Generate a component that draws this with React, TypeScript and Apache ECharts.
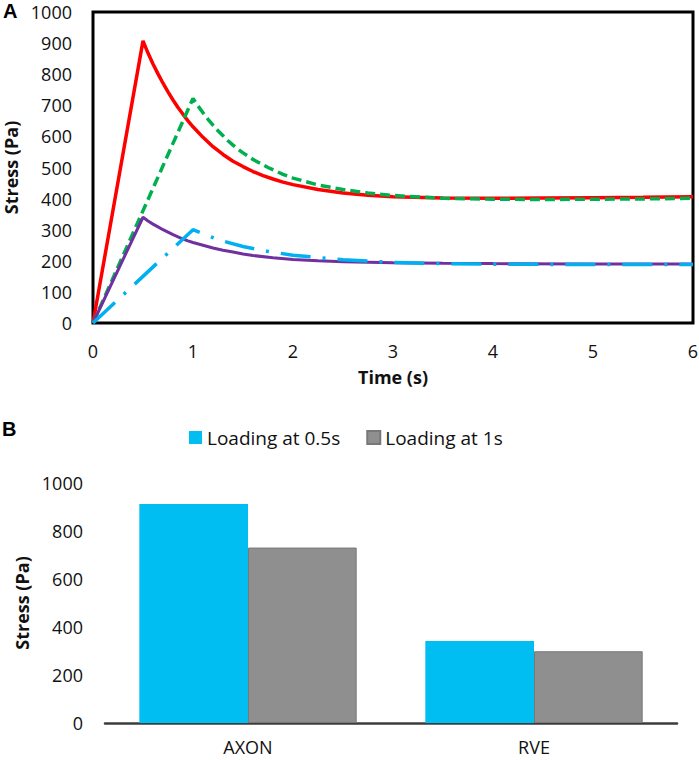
import React, { useEffect, useRef } from "react";
import * as echarts from "echarts";

// Panel A: stress vs time (time in s, stress in Pa)
const axonLoad05: number[][] = [
  [0, 0], [0.5, 907], [0.55, 868], [0.6, 833], [0.65, 801], [0.7, 771], [0.75, 743],
  [0.8, 717], [0.85, 693], [0.9, 671], [0.95, 650], [1.0, 631], [1.1, 597], [1.2, 567],
  [1.3, 542], [1.4, 520], [1.5, 503], [1.6, 487], [1.7, 474], [1.8, 463], [1.9, 453],
  [2.0, 445], [2.25, 429], [2.5, 418], [2.75, 411], [3.0, 406], [3.5, 402], [4.0, 401],
  [4.5, 402], [5.0, 403], [5.5, 404], [6.0, 406],
];
const axonLoad1: number[][] = [
  [0, 0], [1.0, 722], [1.05, 698], [1.1, 676], [1.15, 655], [1.2, 636], [1.25, 618],
  [1.3, 602], [1.35, 586], [1.4, 572], [1.45, 559], [1.5, 547], [1.6, 526], [1.75, 500],
  [1.9, 478], [2.0, 466], [2.25, 444], [2.5, 429], [2.75, 418], [3.0, 410], [3.5, 401],
  [4.0, 398], [4.5, 397], [5.0, 398], [5.5, 399], [6.0, 401],
];
const rveLoad05: number[][] = [
  [0, 0], [0.5, 340], [0.55, 328], [0.6, 318], [0.65, 309], [0.7, 300], [0.75, 292],
  [0.8, 284], [0.85, 277], [0.9, 270], [0.95, 264], [1.0, 259], [1.1, 250], [1.2, 241],
  [1.3, 234], [1.4, 228], [1.5, 222], [1.6, 217], [1.8, 210], [2.0, 204], [2.25, 200],
  [2.5, 197], [3.0, 194], [3.5, 192], [4.0, 191], [5.0, 190], [6.0, 190],
];
const rveLoad1: number[][] = [
  [0, 0], [1.0, 300], [1.25, 268], [1.5, 246], [1.75, 230], [2.0, 218], [2.5, 203],
  [3.0, 195], [3.5, 191], [4.0, 189], [5.0, 188], [6.0, 188],
];

// Panel B: peak stress
const categories = ["AXON", "RVE"];
const peakLoad05 = [913, 342];
const peakLoad1 = [731, 299];
const legendNames = ["Loading at 0.5s", "Loading at 1s"];

const FONT = "'Open Sans', sans-serif";
const TXT = "#111";

export default function App() {
  const ref = useRef<HTMLDivElement>(null);
  useEffect(() => {
    const chart = echarts.init(ref.current!, null, { renderer: "svg" });
    const tickLabel = { color: TXT, fontFamily: FONT, fontSize: 18, formatter: (v: any) => String(v) };
    const nameStyle = { color: TXT, fontFamily: FONT, fontSize: 18, fontWeight: "bold" as const };
    chart.setOption({
      animation: false,
      backgroundColor: "#fff",
      textStyle: { fontFamily: FONT },
      grid: [
        {
          left: 93, top: 12, width: 600, height: 311, show: true, borderColor: "#000", borderWidth: 3,
          backgroundColor: "transparent", containLabel: false, outerBoundsMode: "none",
        },
        { left: 105, top: 483, width: 572, height: 240, containLabel: false, outerBoundsMode: "none" },
      ],
      legend: {
        data: legendNames,
        left: 189,
        top: 428,
        padding: 0,
        icon: "rect",
        itemWidth: 13,
        itemHeight: 13,
        itemGap: 26,
        textStyle: { color: TXT, fontFamily: FONT, fontSize: 19 },
      },
      graphic: [
        { type: "text", left: 3, top: 1, style: { text: "A", font: "bold 20px 'Liberation Sans', Arial", fill: "#000" } },
        { type: "text", left: 2, top: 419, style: { text: "B", font: "bold 20px 'Liberation Sans', Arial", fill: "#000" } },
      ],
      xAxis: [
        {
          gridIndex: 0, type: "value", min: 0, max: 6, interval: 1,
          name: "Time (s)", nameLocation: "middle", nameGap: 45, nameTextStyle: nameStyle,
          axisLine: { show: false }, axisTick: { show: false }, splitLine: { show: false },
          axisLabel: { ...tickLabel, margin: 19 },
        },
        {
          gridIndex: 1, type: "category", data: categories,
          axisLine: { show: true, lineStyle: { color: "#3c3c3c", width: 2.5 } },
          axisTick: { show: false },
          axisLabel: { ...tickLabel, margin: 15 },
        },
      ],
      yAxis: [
        {
          gridIndex: 0, type: "value", min: 0, max: 1000, interval: 100,
          name: "Stress (Pa)", nameLocation: "middle", nameGap: 70, nameTextStyle: nameStyle,
          axisLine: { show: false }, axisTick: { show: false }, splitLine: { show: false },
          axisLabel: { ...tickLabel, margin: 21 },
        },
        {
          gridIndex: 1, type: "value", min: 0, max: 1000, interval: 200,
          name: "Stress (Pa)", nameLocation: "middle", nameGap: 72, nameTextStyle: nameStyle,
          axisLine: { show: false }, axisTick: { show: false }, splitLine: { show: false },
          axisLabel: { ...tickLabel, margin: 22 },
        },
      ],
      series: [
        {
          type: "line", xAxisIndex: 0, yAxisIndex: 0, data: axonLoad05, showSymbol: false,
          lineStyle: { color: "#ff0000", width: 3.5 },
        },
        {
          type: "line", xAxisIndex: 0, yAxisIndex: 0, data: axonLoad1, showSymbol: false,
          lineStyle: { color: "#00b050", width: 3.5, type: [10, 5] },
        },
        {
          type: "line", xAxisIndex: 0, yAxisIndex: 0, data: rveLoad05, showSymbol: false,
          lineStyle: { color: "#7030a0", width: 3 },
        },
        {
          type: "line", xAxisIndex: 0, yAxisIndex: 0, data: rveLoad1, showSymbol: false,
          lineStyle: { color: "#00b0f0", width: 3.5, type: [30, 12, 3, 12] },
        },
        {
          name: legendNames[0], type: "bar", xAxisIndex: 1, yAxisIndex: 1, data: peakLoad05,
          barGap: "0%", barCategoryGap: "24%",
          itemStyle: { color: "#00bef2" },
        },
        {
          name: legendNames[1], type: "bar", xAxisIndex: 1, yAxisIndex: 1, data: peakLoad1,
          barGap: "0%", barCategoryGap: "24%",
          itemStyle: { color: "#8f8f8f", borderColor: "#787878", borderWidth: 1 },
        },
      ],
    });
    return () => chart.dispose();
  }, []);
  return <div ref={ref} style={{ position: "absolute", left: 0, top: 0, width: 699, height: 760 }} />;
}
